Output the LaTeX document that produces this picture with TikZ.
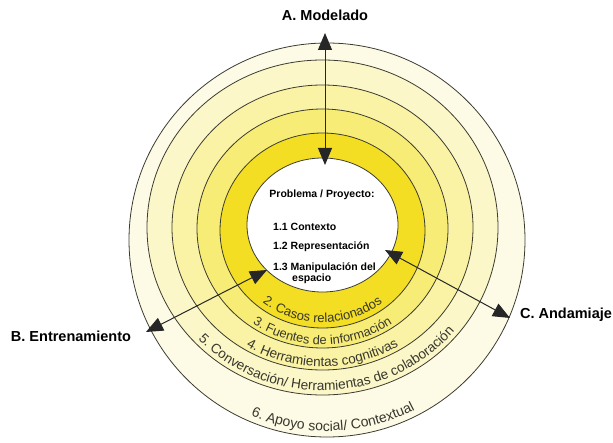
\documentclass[tikz,border=0pt]{standalone}
\usepackage{fontspec}
\setmainfont{Liberation Sans}
\usetikzlibrary{arrows.meta, decorations.text}
\definecolor{bandtwo}{RGB}{243,222,35}
\definecolor{bandthree}{RGB}{247,236,118}
\definecolor{bandfour}{RGB}{250,243,165}
\definecolor{bandfive}{RGB}{251,247,200}
\definecolor{bandsix}{RGB}{253,251,230}
\definecolor{ringline}{RGB}{60,60,48}
\definecolor{bandink}{RGB}{55,55,45}
\newcommand\bandfont[1]{\fontsize{#1}{#1}\selectfont\color{bandink}}

\begin{document}
\begin{tikzpicture}[x=1pt, y=1pt,
  ring/.style={draw=ringline, line width=0.8pt},
  mainlab/.style={font=\fontsize{14.5}{17}\selectfont\bfseries, inner sep=0pt},
  probtext/.style={font=\fontsize{10.5}{12}\selectfont\bfseries, inner sep=0pt, anchor=west},
  twoway/.style={{Triangle[length=17pt,width=14pt]}-{Triangle[length=17pt,width=14pt]}, line width=1pt, draw=black!85},
  bandtext/.style 2 args={decorate, decoration={text along path, text align=center, text={|\bandfont{#1}|#2}}}
]
\useasboundingbox (0,0) rectangle (613,442);

\filldraw[ring, fill=bandsix] (327,202) ellipse [x radius=198, y radius=197];
\filldraw[ring, fill=bandfive] (322.5,214.5) ellipse [x radius=175.5, y radius=167.5];
\filldraw[ring, fill=bandfour] (322.5,214.5) ellipse [x radius=150.5, y radius=142.5];
\filldraw[ring, fill=bandthree] (322.5,213.5) ellipse [x radius=125.5, y radius=119.5];
\filldraw[ring, fill=bandtwo] (322.5,211.5) ellipse [x radius=102.5, y radius=97.5];
\filldraw[ring, fill=white] (322.5,217) ellipse [x radius=75.5, y radius=67];

\path[bandtext={13}{2. Casos relacionados}] (322.5,211.5) ++(190:97 and 92) arc[start angle=190, end angle=350, x radius=97, y radius=92];
\path[bandtext={12.8}{3. Fuentes de información}] (322.5,213.5) ++(190:122 and 116) arc[start angle=190, end angle=350, x radius=122, y radius=116];
\path[bandtext={13.5}{4. Herramientas cognitivas}] (322.5,214.5) ++(190:147 and 139) arc[start angle=190, end angle=350, x radius=147, y radius=139];
\path[bandtext={13.6}{5. Conversación/ Herramientas de colaboración}] (322.5,214.5) ++(182:171 and 163) arc[start angle=182, end angle=362, x radius=171, y radius=163];
\path[bandtext={14}{6. Apoyo social/ Contextual}] (327,202) ++(192:192 and 191) arc[start angle=192, end angle=352, x radius=192, y radius=191];

\coordinate (mTop) at (325,409);
\coordinate (mIn) at (325,277);
\coordinate (eOut) at (146,110);
\coordinate (eIn) at (267,172);
\coordinate (aIn) at (385,192);
\coordinate (aOut) at (510,124);
\draw[twoway] (mTop) -- (mIn);
\draw[twoway] (eOut) -- (eIn);
\draw[twoway] (aIn) -- (aOut);

\node[mainlab] (modelado) at (325,427) {A. Modelado};
\node[mainlab] (entrena) at (71,106) {B. Entrenamiento};
\node[mainlab] (andamio) at (566,127) {C. Andamiaje};

\node[probtext, anchor=center] (proyecto) at (322,247) {Problema / Proyecto:};
\node[probtext] (contexto) at (273,215) {1.1 Contexto};
\node[probtext] (represent) at (273,195) {1.2 Representación};
\node[probtext] (manipula) at (273,174) {1.3 Manipulación del};
\node[probtext] (espacio) at (292,163) {espacio};
\end{tikzpicture}
\end{document}
